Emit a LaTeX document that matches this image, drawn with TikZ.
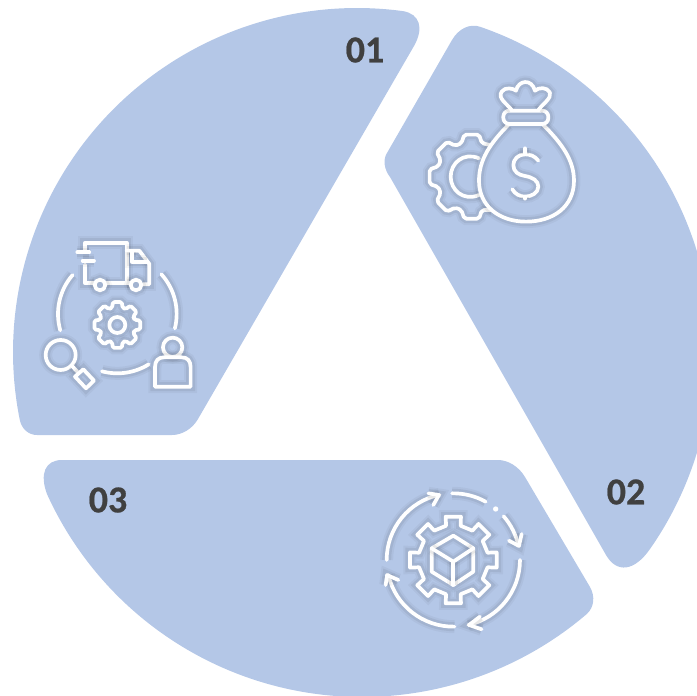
\documentclass[tikz,border=0pt]{standalone}
\usepackage{fontspec}
\setmainfont{Carlito}
\newfontfamily\labelfont[FakeBold=0.6]{Carlito Bold}
\usetikzlibrary{calc}
\definecolor{sectorblue}{HTML}{B4C7E7}
\definecolor{labelgray}{HTML}{404040}
\tikzset{
	sector/.style={fill=sectorblue},
	steplabel/.style={font=\labelfont\fontsize{38}{38}\selectfont, text=labelgray, inner sep=0pt},
	iconline/.style={draw=white, line width=3.7pt, line cap=round, line join=round,
		preaction={draw=black, opacity=.035, line width=13pt},
		preaction={draw=black, opacity=.06, line width=9pt}},
	iconzoom/.style={x=.3333pt, y=-.3333pt}
}
% rounded join from a over the corner v to b
\newcommand{\bend}[3]{.. controls ($(#1)!.6!(#2)$) and ($(#3)!.6!(#2)$) .. (#3)}
% teeth of a gear round the origin of the current scope
\newcommand{\gearteeth}[5]{foreach \a in {#1} {-- (\a-#5:#3) -- (\a-#4:#2) -- (\a+#4:#2) -- (\a+#5:#3)}}
\begin{document}
\begin{tikzpicture}[x=1pt, y=-1pt]
	\useasboundingbox (0,0) rectangle (697,696);
	\clip (0,0) rectangle (697,696);

	% Sector 01
	\coordinate (oneC) at (357,352);
	\coordinate (oneA) at ([shift={(-82.3:344)}]oneC);
	\coordinate (oneB) at ([shift={(-191.4:344)}]oneC);
	\path[sector] (37,435) -- (172,435) \bend{172,435}{189,435}{198,419} -- (414,46)
		\bend{414,46}{431,16}{oneA} arc[start angle=-82.3, end angle=-191.4, radius=344]
		\bend{oneB}{23,435}{37,435} -- cycle;

	% Sector 02
	\coordinate (twoC) at (368,352);
	\coordinate (twoA) at ([shift={(-71:344)}]twoC);
	\coordinate (twoB) at ([shift={(35:344)}]twoC);
	\path[sector] (452,40) -- (387,153) \bend{387,153}{380,164}{390,177} -- (606,555)
		\bend{606,555}{624,586}{twoB} arc[start angle=35, end angle=-71, radius=344]
		\bend{twoA}{463,21}{452,40} -- cycle;

	% Sector 03
	\coordinate (threeC) at (362,351);
	\coordinate (threeA) at ([shift={(49.5:346)}]threeC);
	\coordinate (threeB) at ([shift={(155.5:346)}]threeC);
	\path[sector] (62,460) -- (498,460) \bend{498,460}{515,460}{525,477} -- (590,587)
		\bend{590,587}{599,603}{threeA} arc[start angle=49.5, end angle=155.5, radius=346]
		\bend{threeB}{34,460}{62,460} -- cycle;

	% Labels
	\node[steplabel] (labelOne) at (365,50) {01};
	\node[steplabel] (labelTwo) at (626,492) {02};
	\node[steplabel] (labelThree) at (108,500) {03};

	% Icon of sector 01
	\begin{scope}[shift={(20,220)}, iconzoom]
		\draw[iconline] (195,95) -- (195,68) -- (320,68) -- (320,190) -- (258,190);
		\draw[iconline] (195,135) -- (195,190) -- (222,190);
		\draw[iconline] (172,97) -- (208,97);
		\draw[iconline] (188,122) -- (222,122);
		\draw[iconline] (320,92) -- (358,92) -- (388,132) -- (388,193) -- (368,193);
		\draw[iconline] (335,95) -- (335,125) -- (382,125);
		\draw[iconline] (320,190) -- (330,190);
		\draw[iconline] (240,195) circle[radius=16];
		\draw[iconline] (348,195) circle[radius=16];
		\draw[iconline] (292,282) ++(221:178) arc[start angle=221, end angle=164, radius=178];
		\draw[iconline] (292,282) ++(-42:178) arc[start angle=-42, end angle=14, radius=178];
		\draw[iconline] (292,282) ++(105:178) arc[start angle=105, end angle=58, radius=178];
		\begin{scope}[shift={(292,315)}, rounded corners=1.5pt]
			\draw[iconline] (-22.5:54) \gearteeth{0,45,...,315}{70}{54}{11}{17} -- cycle;
		\end{scope}
		\draw[iconline] (292,315) circle[radius=24];
		\draw[iconline] (122,405) circle[radius=45];
		\draw[iconline] (156,438) -- (172,455);
		\draw[iconline] (165,470) -- (190,448) -- (222,482) -- (198,505) -- cycle;
		\draw[iconline] (458,382) circle[radius=29];
		\draw[iconline] (405,500) -- (405,442) .. controls (405,422) and (415,412) .. (432,412)
			-- (485,412) .. controls (502,412) and (512,422) .. (512,442) -- (512,500) -- cycle;
	\end{scope}

	% Icon of sector 02
	\begin{scope}[shift={(410,60)}, iconzoom]
		\begin{scope}[shift={(185,350)}, rounded corners=2pt]
			\draw[iconline] (58,100) \gearteeth{90,135,...,270}{128}{105}{10}{17} -- (55,-95);
		\end{scope}
		\draw[iconline] (207,295) .. controls (160,275) and (122,310) .. (122,350)
			.. controls (122,390) and (160,425) .. (207,405);
		\draw[iconline] (295,195) .. controls (240,250) and (207,300) .. (207,362)
			.. controls (207,440) and (270,485) .. (348,485)
			.. controls (430,485) and (492,440) .. (492,362)
			.. controls (492,300) and (455,250) .. (400,195);
		\draw[iconline, rounded corners=6pt] (280,152) rectangle (415,192);
		\draw[iconline] (305,150) .. controls (290,130) and (262,115) .. (275,95)
			.. controls (285,80) and (310,85) .. (318,92)
			.. controls (325,60) and (365,55) .. (375,92)
			.. controls (385,82) and (412,80) .. (420,98)
			.. controls (425,115) and (400,130) .. (385,150);
		\draw[iconline] (385,302) .. controls (375,288) and (360,283) .. (345,283)
			.. controls (325,283) and (310,298) .. (310,315)
			.. controls (310,335) and (325,345) .. (345,348)
			.. controls (368,352) and (385,362) .. (385,380)
			.. controls (385,398) and (365,410) .. (345,410)
			.. controls (330,410) and (315,402) .. (307,388);
		\draw[iconline] (345,265) -- (345,283);
		\draw[iconline] (345,410) -- (345,416);
	\end{scope}

	% Icon of sector 03
	\begin{scope}[shift={(365,470)}, iconzoom]
		\draw[iconline] (265,270) ++(180:200) arc[start angle=180, end angle=258, radius=200];
		\draw[iconline] (190,70) -- (222,75) -- (205,105);
		\draw[iconline] (265,270) ++(-91:200) arc[start angle=-91, end angle=-61, radius=200];
		\fill[white] (392,117) circle[radius=8];
		\draw[iconline] (265,270) ++(-41:200) arc[start angle=-41, end angle=-13, radius=200];
		\draw[iconline] (432,212) -- (462,228) -- (470,192);
		\draw[iconline] (265,270) ++(0:200) arc[start angle=0, end angle=77, radius=200];
		\draw[iconline] (345,440) -- (312,465) -- (350,478);
		\draw[iconline] (265,270) ++(89:200) arc[start angle=89, end angle=167, radius=200];
		\draw[iconline] (62,345) -- (66,315) -- (100,330);
		\begin{scope}[shift={(265,270)}]
			\draw[iconline] (-90-12:105) \gearteeth{-90,-45,...,225}{132}{105}{10}{12} -- cycle;
		\end{scope}
		\draw[iconline] (265,197) -- (325,235) -- (325,305) -- (265,345) -- (200,305) -- (200,235) -- cycle;
		\draw[iconline] (200,235) -- (265,275) -- (325,235);
		\draw[iconline] (265,275) -- (265,345);
	\end{scope}
\end{tikzpicture}
\end{document}
